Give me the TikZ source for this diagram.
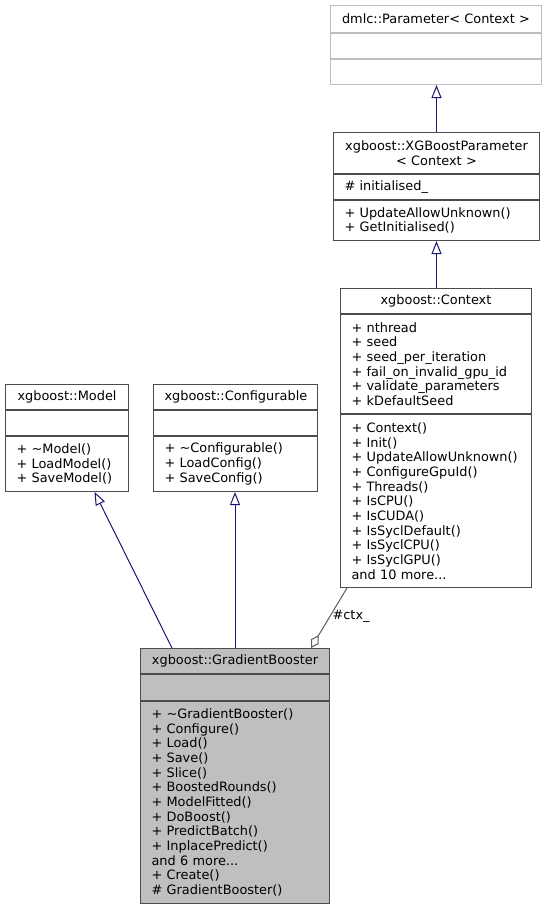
\documentclass[tikz,border=0pt]{standalone}
\usepackage{fontspec}
\setmainfont{DejaVu Sans}
\usetikzlibrary{arrows.meta}

\definecolor{inhblue}{RGB}{25,25,112}
\newcommand{\umlfont}{\fontsize{12.9}{14.65}\selectfont}

\begin{document}
\begin{tikzpicture}[x = 1pt, y = -1pt,
        part/.style = {draw = black!70, line width = 1pt, fill = white, anchor = north west,
                       inner xsep = 11pt, inner ysep = 1pt, align = left, font = \umlfont},
        head/.style = {part, align = center},
        extern/.style = {draw = black!25},
        focus/.style = {fill = black!25},
        inherit/.style = {draw = inhblue, line width = 1pt, -{Triangle[open, length = 13pt, width = 10pt]}},
        usage/.style = {draw = black!65, line width = 1pt, -{Diamond[open, length = 15pt, width = 9pt]}}]
        \useasboundingbox (0,0) rectangle (547,907);

        % dmlc::Parameter
        \node [head, extern, text width = 189pt, minimum height = 27pt] (param) at (330,5) {dmlc::Parameter< Context >};
        \node [part, extern, text width = 189pt, minimum height = 25pt] (param-attr) at (param.south west) {};
        \node [part, extern, text width = 189pt, minimum height = 25pt] (param-ops) at (param-attr.south west) {};

        % xgboost::XGBoostParameter
        \node [head, text width = 184pt, minimum height = 41pt] (xgbparam) at (333,132) {xgboost::XGBoostParameter\\< Context >};
        \node [part, text width = 184pt, minimum height = 25pt] (xgbparam-attr) at (xgbparam.south west) {\#~initialised\_};
        \node [part, text width = 184pt, minimum height = 40pt] (xgbparam-ops) at (xgbparam-attr.south west)
            {+~UpdateAllowUnknown()\\+~GetInitialised()};

        % xgboost::Context
        \node [head, text width = 169pt, minimum height = 25pt] (context) at (340,288) {xgboost::Context};
        \node [part, text width = 169pt, minimum height = 99pt] (context-attr) at (context.south west)
            {+~nthread\\+~seed\\+~seed\_per\_iteration\\+~fail\_on\_invalid\_gpu\_id\\+~validate\_parameters\\+~kDefaultSeed};
        \node [part, text width = 169pt, minimum height = 173pt] (context-ops) at (context-attr.south west)
            {+~Context()\\+~Init()\\+~UpdateAllowUnknown()\\+~ConfigureGpuId()\\+~Threads()\\+~IsCPU()\\+~IsCUDA()\\
             +~IsSyclDefault()\\+~IsSyclCPU()\\+~IsSyclGPU()\\and~10~more...};

        % xgboost::Model
        \node [head, text width = 101pt, minimum height = 25pt] (model) at (5,384) {xgboost::Model};
        \node [part, text width = 101pt, minimum height = 25pt] (model-attr) at (model.south west) {};
        \node [part, text width = 101pt, minimum height = 55pt] (model-ops) at (model-attr.south west)
            {+~\textasciitilde Model()\\+~LoadModel()\\+~SaveModel()};

        % xgboost::Configurable
        \node [head, text width = 142pt, minimum height = 25pt] (config) at (153,384) {xgboost::Configurable};
        \node [part, text width = 142pt, minimum height = 25pt] (config-attr) at (config.south west) {};
        \node [part, text width = 142pt, minimum height = 55pt] (config-ops) at (config-attr.south west)
            {+~\textasciitilde Configurable()\\+~LoadConfig()\\+~SaveConfig()};

        % xgboost::GradientBooster
        \node [head, focus, text width = 167pt, minimum height = 25pt] (gb) at (140,648) {xgboost::GradientBooster};
        \node [part, focus, text width = 167pt, minimum height = 26pt] (gb-attr) at (gb.south west) {};
        \node [part, focus, text width = 167pt, minimum height = 202pt] (gb-ops) at (gb-attr.south west)
            {+~\textasciitilde GradientBooster()\\+~Configure()\\+~Load()\\+~Save()\\+~Slice()\\+~BoostedRounds()\\
             +~ModelFitted()\\+~DoBoost()\\+~PredictBatch()\\+~InplacePredict()\\and~6~more...\\+~Create()\\
             \#~GradientBooster()};

        % connectors
        \draw [inherit] (xgbparam.north) -- (xgbparam.north |- param-ops.south);
        \draw [inherit] (xgbparam-ops.south |- context.north) -- (xgbparam-ops.south);
        \draw [inherit] ([xshift = 32pt]gb.north west) -- ([xshift = 27.5pt]model-ops.south);
        \draw [inherit] (gb.north) -- (gb.north |- config-ops.south);
        \draw [usage] ([xshift = 7pt]context-ops.south west)
            -- node [pos = 0.47, right, font = \umlfont, inner sep = 2pt] (ctx-label) {\#ctx\_} ([xshift = 171pt]gb.north west);
    \end{tikzpicture}
\end{document}
